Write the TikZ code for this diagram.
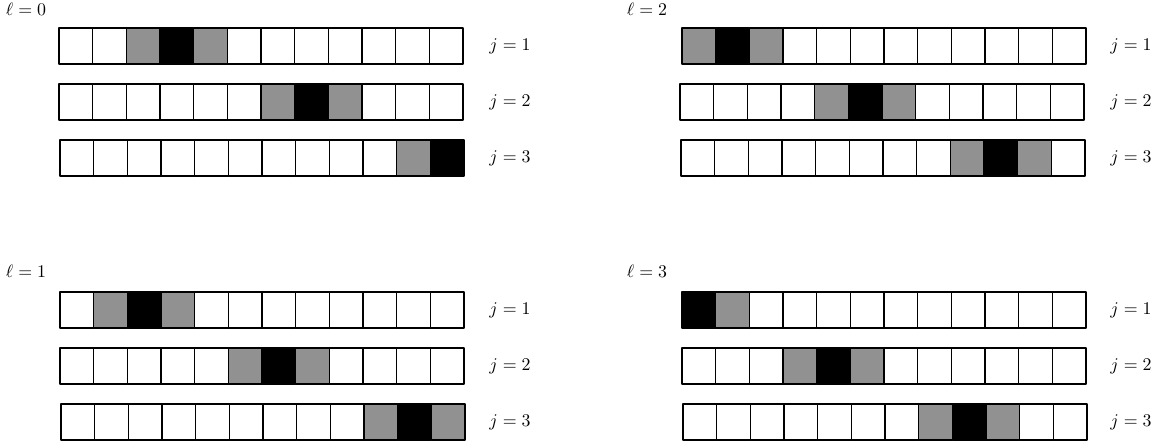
\documentclass[tikz,border=0pt]{standalone}
\usepackage{amsmath, amssymb}
\usepackage{tikz}
\usetikzlibrary{positioning}

\definecolor{cellgray}{gray}{0.57}

% one row of 12 cells: #1 left, #2 top, #3 gray cells, #4 black cells
\newcommand{\cellrow}[4]{%
  \foreach \g in {#3} \fill[cellgray] (#1+\g*33.67-33.67, #2) rectangle +(33.67, 36);
  \foreach \b in {#4} \fill[black] (#1+\b*33.67-33.67, #2) rectangle +(33.67, 36);
  \foreach \c in {0,...,11} \draw[cellline] (#1+\c*33.67, #2) rectangle +(33.67, 36);
}

\begin{document}
\begin{tikzpicture}[x=0.56pt, y=-0.56pt,
    cellline/.style={line width=0.65pt, line join=round},
    lab/.style={inner sep=0pt}]
  % canvas
  \useasboundingbox (0,0) rectangle (1162,446);

  % l = 0 (top left)
  \node[lab] (l0) at (26,9) {$\ell=0$};
  \cellrow{59}{28}{3,5}{4}
  \cellrow{59}{84}{7,9}{8}
  \cellrow{60}{140}{11}{12}
  \node[lab] (j01) at (510,46) {$j=1$};
  \node[lab] (j02) at (510,102) {$j=2$};
  \node[lab] (j03) at (510,158) {$j=3$};

  % l = 2 (top right)
  \node[lab] (l2) at (647,9) {$\ell=2$};
  \cellrow{682}{28}{1,3}{2}
  \cellrow{680}{84}{5,7}{6}
  \cellrow{681}{140}{9,11}{10}
  \node[lab] (j21) at (1131,46) {$j=1$};
  \node[lab] (j22) at (1131,102) {$j=2$};
  \node[lab] (j23) at (1131,158) {$j=3$};

  % l = 1 (bottom left)
  \node[lab] (l1) at (26,271) {$\ell=1$};
  \cellrow{60}{292}{2,4}{3}
  \cellrow{60}{348}{6,8}{7}
  \cellrow{61}{404}{10,12}{11}
  \node[lab] (j11) at (510,310) {$j=1$};
  \node[lab] (j12) at (510,366) {$j=2$};
  \node[lab] (j13) at (510,422) {$j=3$};

  % l = 3 (bottom right)
  \node[lab] (l3) at (647,271) {$\ell=3$};
  \cellrow{682}{292}{2}{1}
  \cellrow{682}{348}{4,6}{5}
  \cellrow{683}{404}{8,10}{9}
  \node[lab] (j31) at (1131,310) {$j=1$};
  \node[lab] (j32) at (1131,366) {$j=2$};
  \node[lab] (j33) at (1131,422) {$j=3$};
\end{tikzpicture}
\end{document}
